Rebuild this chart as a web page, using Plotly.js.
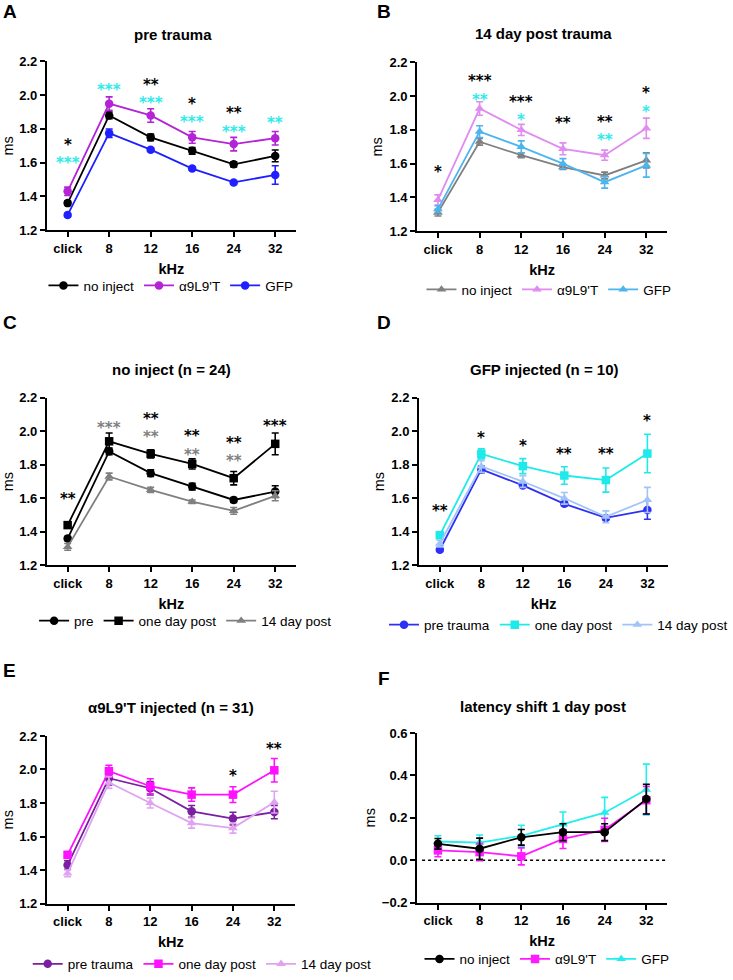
<!DOCTYPE html>
<html>
<head>
<meta charset="utf-8">
<script src="https://cdn.plot.ly/plotly-3.0.1.min.js"></script>
<style>html,body{margin:0;padding:0;background:#fff;}#chart{width:733px;height:980px;}</style>
</head>
<body>
<div id="chart"></div>
<script>
// ---------- data ----------
const freqs = ['click', '8', '12', '16', '24', '32'];

// A: pre trauma
const A_noInject     = [1.36, 1.88, 1.75, 1.67, 1.59, 1.64];
const A_noInjectErr  = [0.012, 0.02, 0.02, 0.02, 0.015, 0.035];
const A_a9           = [1.43, 1.95, 1.88, 1.75, 1.71, 1.745];
const A_a9Err        = [0.025, 0.04, 0.04, 0.035, 0.04, 0.04];
const A_gfp          = [1.29, 1.775, 1.677, 1.565, 1.483, 1.527];
const A_gfpErr       = [0.01, 0.025, 0.01, 0.01, 0.01, 0.055];

// B: 14 day post trauma
const B_noInject     = [1.31, 1.73, 1.65, 1.58, 1.53, 1.62];
const B_noInjectErr  = [0.02, 0.02, 0.015, 0.015, 0.02, 0.045];
const B_a9           = [1.385, 1.927, 1.80, 1.688, 1.65, 1.81];
const B_a9Err        = [0.03, 0.04, 0.033, 0.035, 0.03, 0.06];
const B_gfp          = [1.33, 1.79, 1.70, 1.60, 1.49, 1.59];
const B_gfpErr       = [0.02, 0.035, 0.035, 0.03, 0.035, 0.07];

// C: no inject (n = 24)
const C_pre          = [1.36, 1.88, 1.75, 1.67, 1.59, 1.64];
const C_preErr       = [0.012, 0.02, 0.02, 0.02, 0.015, 0.035];
const C_oneDay       = [1.44, 1.94, 1.865, 1.805, 1.72, 1.925];
const C_oneDayErr    = [0.012, 0.05, 0.025, 0.03, 0.04, 0.065];
const C_day14        = [1.31, 1.73, 1.65, 1.58, 1.525, 1.615];
const C_day14Err     = [0.02, 0.02, 0.015, 0.01, 0.02, 0.03];

// D: GFP injected (n = 10)
const D_pre          = [1.293, 1.773, 1.677, 1.567, 1.483, 1.53];
const D_preErr       = [0.01, 0.02, 0.01, 0.012, 0.012, 0.055];
const D_oneDay       = [1.38, 1.865, 1.792, 1.736, 1.709, 1.867];
const D_oneDayErr    = [0.02, 0.03, 0.045, 0.052, 0.072, 0.115];
const D_day14        = [1.33, 1.79, 1.70, 1.60, 1.49, 1.59];
const D_day14Err     = [0.02, 0.035, 0.035, 0.035, 0.035, 0.075];

// E: a9L9'T injected (n = 31)
const E_pre          = [1.43, 1.948, 1.888, 1.75, 1.707, 1.746];
const E_preErr       = [0.025, 0.04, 0.04, 0.035, 0.038, 0.04];
const E_oneDay       = [1.49, 1.99, 1.90, 1.85, 1.85, 1.995];
const E_oneDayErr    = [0.02, 0.035, 0.045, 0.04, 0.047, 0.07];
const E_day14        = [1.38, 1.922, 1.80, 1.68, 1.65, 1.805];
const E_day14Err     = [0.02, 0.035, 0.03, 0.03, 0.03, 0.065];

// F: latency shift 1 day post
const F_noInject     = [0.077, 0.054, 0.108, 0.132, 0.132, 0.288];
const F_noInjectErr  = [0.025, 0.05, 0.037, 0.04, 0.04, 0.07];
const F_a9           = [0.046, 0.038, 0.018, 0.10, 0.143, 0.283];
const F_a9Err        = [0.03, 0.04, 0.04, 0.045, 0.055, 0.065];
const F_gfp          = [0.088, 0.083, 0.115, 0.169, 0.224, 0.333];
const F_gfpErr       = [0.027, 0.036, 0.05, 0.058, 0.072, 0.12];

// significance marks: category, upper-row level/text/group, lower-row level/text/group
const A_starX   = ['click', '8', '12', '16', '24', '32'];
const A_topY    = [1.706, 2.05, 2.063, 1.95, 1.897, 1.855];
const A_topT    = ['*', '***', '**', '*', '**', '**'];
const A_topG    = ['k', 'c', 'k', 'k', 'k', 'c'];
const A_botY    = [1.64, null, 1.99, 1.878, 1.82, null];
const A_botT    = ['***', '', '***', '***', '***', ''];
const A_botG    = ['c', '', 'c', 'c', 'c', ''];

const B_starX   = ['click', '8', '12', '16', '24', '32'];
const B_topY    = [1.57, 2.09, 1.966, 1.864, 1.86, 2.02];
const B_topT    = ['*', '***', '***', '**', '**', '*'];
const B_topG    = ['k', 'k', 'k', 'k', 'k', 'k'];
const B_botY    = [null, 2.02, 1.90, null, 1.766, 1.946];
const B_botT    = ['', '**', '*', '', '**', '*'];
const B_botG    = ['', 'c', 'c', '', 'c', 'c'];

const C_starX   = ['click', '8', '12', '16', '24', '32'];
const C_topY    = [1.614, 2.04, 2.078, 1.97, 1.926, 2.05];
const C_topT    = ['**', '***', '**', '**', '**', '***'];
const C_topG    = ['k', 'g', 'k', 'k', 'k', 'k'];
const C_botY    = [null, null, 2.005, 1.90, 1.865, null];
const C_botT    = ['', '', '**', '**', '**', ''];
const C_botG    = ['', '', 'g', 'g', 'g', ''];

const D_starX   = ['click', '8', '12', '16', '24', '32'];
const D_topY    = [1.545, 1.98, 1.93, 1.884, 1.884, 2.084];
const D_topT    = ['**', '*', '*', '**', '**', '*'];
const D_topG    = ['k', 'k', 'k', 'k', 'k', 'k'];

const E_starX   = ['24', '32'];
const E_topY    = [1.983, 2.14];
const E_topT    = ['*', '**'];
const E_topG    = ['k', 'k'];

const titles = ['pre trauma', '14 day post trauma', 'no inject (n = 24)',
                'GFP injected (n = 10)', "\u03b19L9'T injected (n = 31)", 'latency shift 1 day post'];
const letters = ['A', 'B', 'C', 'D', 'E', 'F'];

// ---------- layout geometry (pixels) ----------
const W = 733, H = 980;
const FONT = 'Liberation Sans, Arial, sans-serif';
const STAR_FONT = 'DejaVu Sans, Liberation Sans, sans-serif';
const panels = [
  {x: [48, 303], y: [62, 232],  title: [177, 35],  letter: [10, 12],  legend: [175, 288]},
  {x: [427, 683], y: [63, 233], title: [556, 34],  letter: [393, 12], legend: [562, 292]},
  {x: [48, 303], y: [401, 570], title: [176, 373], letter: [10, 325], legend: [190, 626]},
  {x: [429, 684], y: [401, 570],title: [557, 373], letter: [393, 325],legend: [572, 630]},
  {x: [48, 302], y: [742, 911], title: [175, 713], letter: [10, 676], legend: [207, 972]},
  {x: [427, 683], y: [739, 910],title: [556, 712], letter: [393, 684],legend: [560, 967]}
];
const starColors = {k: '#000000', c: '#2EEAEA', g: '#808080'};
const STAR_SIZE = 15;
const STAR_BOX = STAR_SIZE * 1.17;          // height of one text line box
const STAR_CENTER_SHIFT = -STAR_SIZE * 0.23; // '*' sits above the line-box centre

const traces = [];
function addTrace(p, y, err, color, symbol, name, rank) {
  const idx = p === 0 ? '' : String(p + 1);
  traces.push({
    type: 'scatter', mode: 'lines+markers',
    x: freqs, y: y, name: name,
    xaxis: 'x' + idx, yaxis: 'y' + idx,
    legend: 'legend' + idx, legendrank: rank,
    line: {color: color, width: 1.8},
    marker: {color: color, symbol: symbol, size: 8.5},
    error_y: {type: 'data', array: err, visible: true, color: color, thickness: 1.6, width: 3.5},
    cliponaxis: false
  });
}
const A9 = "\u03b19L9'T";
addTrace(0, A_noInject, A_noInjectErr, '#000000', 'circle', 'no inject', 1);
addTrace(0, A_a9, A_a9Err, '#B423D6', 'circle', A9, 2);
addTrace(0, A_gfp, A_gfpErr, '#1F1FFF', 'circle', 'GFP', 3);

addTrace(1, B_noInject, B_noInjectErr, '#808080', 'triangle-up', 'no inject', 1);
addTrace(1, B_a9, B_a9Err, '#E08CF0', 'triangle-up', A9, 2);
addTrace(1, B_gfp, B_gfpErr, '#4DB5EE', 'triangle-up', 'GFP', 3);

addTrace(2, C_pre, C_preErr, '#000000', 'circle', 'pre', 1);
addTrace(2, C_oneDay, C_oneDayErr, '#000000', 'square', 'one day post', 2);
addTrace(2, C_day14, C_day14Err, '#808080', 'triangle-up', '14 day post', 3);

addTrace(3, D_pre, D_preErr, '#2F2FF5', 'circle', 'pre trauma', 1);
addTrace(3, D_oneDay, D_oneDayErr, '#1EEAEA', 'square', 'one day post', 2);
addTrace(3, D_day14, D_day14Err, '#A0C4F8', 'triangle-up', '14 day post', 3);

addTrace(4, E_pre, E_preErr, '#7A1FA0', 'circle', 'pre trauma', 1);
addTrace(4, E_oneDay, E_oneDayErr, '#FF10FF', 'square', 'one day post', 2);
addTrace(4, E_day14, E_day14Err, '#DFA3F2', 'triangle-up', '14 day post', 3);

// F: draw GFP and a9 first so no inject sits on top
addTrace(5, F_gfp, F_gfpErr, '#22EEEE', 'triangle-up', 'GFP', 3);
addTrace(5, F_a9, F_a9Err, '#FF1AFF', 'square', A9, 2);
addTrace(5, F_noInject, F_noInjectErr, '#000000', 'circle', 'no inject', 1);

const layout = {
  width: W, height: H, autosize: false,
  margin: {l: 0, r: 0, t: 0, b: 0, pad: 0},
  paper_bgcolor: '#ffffff', plot_bgcolor: '#ffffff',
  font: {family: FONT, color: '#000'},
  annotations: [], shapes: []
};

panels.forEach((pn, i) => {
  const idx = i === 0 ? '' : String(i + 1);
  const xa = {
    domain: [pn.x[0] / W, pn.x[1] / W],
    anchor: 'y' + idx,
    type: 'category', categoryorder: 'array', categoryarray: freqs,
    range: [-0.5, 5.5],
    showline: true, linecolor: '#000', linewidth: 2,
    ticks: 'outside', ticklen: 5, tickwidth: 2, tickcolor: '#000',
    showgrid: false, zeroline: false,
    tickfont: {family: FONT, size: 13, color: '#000', weight: 'bold'},
    title: {text: '<b>kHz</b>', font: {family: FONT, size: 14.5, color: '#000'}, standoff: 9},
    fixedrange: true
  };
  const isF = i === 5;
  const ya = {
    domain: [1 - pn.y[1] / H, 1 - pn.y[0] / H],
    anchor: 'x' + idx,
    range: isF ? [-0.2, 0.6] : [1.2, 2.2],
    tickvals: isF ? [-0.2, 0, 0.2, 0.4, 0.6] : [1.2, 1.4, 1.6, 1.8, 2.0, 2.2],
    tickformat: '.1f',
    showline: true, linecolor: '#000', linewidth: 2,
    ticks: 'outside', ticklen: 5, tickwidth: 2, tickcolor: '#000',
    showgrid: false, zeroline: false,
    tickfont: {family: FONT, size: 13, color: '#000', weight: 'bold'},
    title: {text: 'ms', font: {family: FONT, size: 14.5, color: '#000'}, standoff: 3},
    fixedrange: true
  };
  layout['xaxis' + idx] = xa;
  layout['yaxis' + idx] = ya;

  layout['legend' + idx] = {
    orientation: 'h', x: pn.legend[0] / W, y: 1 - pn.legend[1] / H,
    xanchor: 'center', yanchor: 'middle',
    font: {family: FONT, size: 13.5, color: '#000'},
    bgcolor: 'rgba(0,0,0,0)', itemclick: false, itemdoubleclick: false,
    tracegroupgap: 0, traceorder: 'normal'
  };

  layout.annotations.push({
    xref: 'paper', yref: 'paper', x: pn.title[0] / W, y: 1 - pn.title[1] / H,
    xanchor: 'center', yanchor: 'middle', showarrow: false,
    text: '<b>' + titles[i] + '</b>', font: {family: FONT, size: 15, color: '#000'}
  });
  layout.annotations.push({
    xref: 'paper', yref: 'paper', x: pn.letter[0] / W, y: 1 - pn.letter[1] / H,
    xanchor: 'center', yanchor: 'middle', showarrow: false,
    text: '<b>' + letters[i] + '</b>', font: {family: FONT, size: 19, color: '#000'}
  });
});

// significance stars; stacked rows are pushed apart just enough that
// their text boxes do not overlap
function starAnn(idx, x, y, t, g, extraShift) {
  layout.annotations.push({
    xref: 'x' + idx, yref: 'y' + idx, x: freqs.indexOf(x), y: y,
    text: '<b>' + t + '</b>', showarrow: false,
    xanchor: 'center', yanchor: 'middle', yshift: STAR_CENTER_SHIFT + extraShift,
    borderpad: 0,
    font: {family: STAR_FONT, size: STAR_SIZE, color: starColors[g]}
  });
}
function addStars(p, xs, topY, topT, topG, botY, botT, botG) {
  const idx = p === 0 ? '' : String(p + 1);
  const pn = panels[p];
  const pxPerUnit = (pn.y[1] - pn.y[0]) / 1.0;
  xs.forEach((x, k) => {
    if (botT && botT[k]) {
      const gapPx = (topY[k] - botY[k]) * pxPerUnit;
      const push = Math.max(0, (STAR_BOX + 1 - gapPx) / 2);
      starAnn(idx, x, topY[k], topT[k], topG[k], push);
      starAnn(idx, x, botY[k], botT[k], botG[k], -push);
    } else {
      starAnn(idx, x, topY[k], topT[k], topG[k], 0);
    }
  });
}
addStars(0, A_starX, A_topY, A_topT, A_topG, A_botY, A_botT, A_botG);
addStars(1, B_starX, B_topY, B_topT, B_topG, B_botY, B_botT, B_botG);
addStars(2, C_starX, C_topY, C_topT, C_topG, C_botY, C_botT, C_botG);
addStars(3, D_starX, D_topY, D_topT, D_topG);
addStars(4, E_starX, E_topY, E_topT, E_topG);

// dotted zero line in F
layout.shapes.push({
  type: 'line', xref: 'x6 domain', yref: 'y6', x0: 0.02, x1: 1, y0: 0, y1: 0,
  line: {color: '#000', width: 1.5, dash: 'dot'}, layer: 'below'
});

Plotly.newPlot('chart', traces, layout, {staticPlot: true, displayModeBar: false});
</script>
</body>
</html>
